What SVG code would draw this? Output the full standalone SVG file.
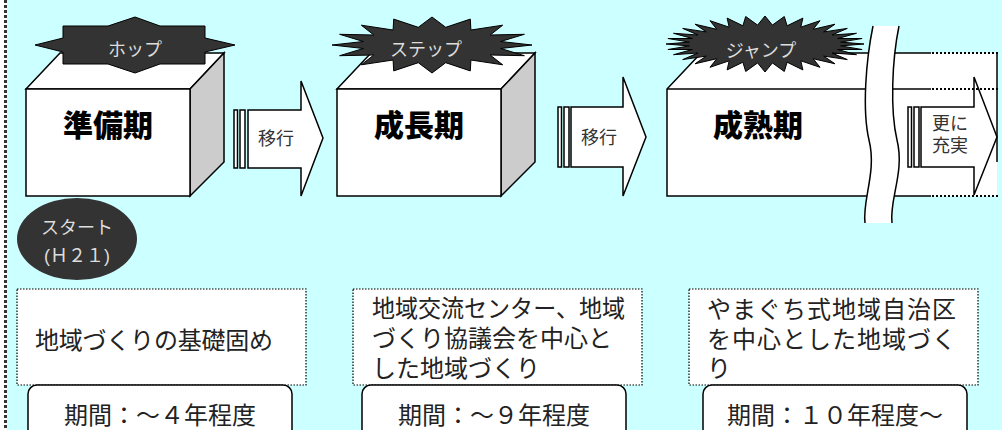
<svg xmlns="http://www.w3.org/2000/svg" width="1002" height="430" viewBox="0 0 1002 430">
<style>
.face{fill:#fff;stroke:#000;stroke-width:1.5;stroke-linejoin:miter}
.side{fill:#ccc;stroke:#000;stroke-width:1.5;stroke-linejoin:miter}
.ln{fill:none;stroke:#000;stroke-width:1.5}
.dl{fill:none;stroke:#000;stroke-width:2;stroke-dasharray:2 2}
.star{fill:#333;stroke:#000;stroke-width:1}
.jp{font-family:"Noto Sans CJK JP","Noto Sans CJK SC",sans-serif}
.jl{font-family:"Liberation Sans","Noto Sans CJK JP","Noto Sans CJK SC",sans-serif}
.startxt{font-size:18px;fill:#ddd;text-anchor:middle}
.big{font-size:30px;font-weight:900;fill:#000;text-anchor:middle}
.arrow{fill:#fff;stroke:#000;stroke-width:1.5;stroke-linejoin:miter}
.atxt{font-size:18px;fill:#333}
.desc{fill:#fff;stroke:#000;stroke-width:1.2;stroke-dasharray:1.5 1.5}
.dtxt{font-size:24px;fill:#222}
.period{fill:#fff;stroke:#000;stroke-width:1.5}
.ptxt{font-size:24px;fill:#222;text-anchor:middle}
</style>
<rect x="0" y="0" width="1002" height="430" fill="#fff"/>
<rect x="7" y="0" width="995" height="430" fill="#ccffff"/>
<line x1="5.5" y1="0" x2="5.5" y2="430" stroke="#333" stroke-width="3" stroke-dasharray="3 2"/>

<g id="box1">
  <polygon class="face" points="26,89 60,53 224,53 190,89"/>
  <polygon class="side" points="190,89 224,53 224,162 190,196"/>
  <rect class="face" x="26" y="89" width="164" height="107"/>
  <polygon class="star" points="63,26 108,26 135,17 160,26 205,26 205,38 235,45 205,52 205,64 160,64 135,73 108,64 63,64 63,52 35,45 63,38"/>
  <text class="jp startxt" x="135" y="56">ホップ</text>
  <text class="jp big" x="108" y="136">準備期</text>
</g>

<g id="box2">
  <polygon class="face" points="337,89 371,53 535,53 501,89"/>
  <polygon class="side" points="501,89 535,53 535,162 501,196"/>
  <rect class="face" x="337" y="89" width="164" height="107"/>
  <polygon class="star" transform="translate(432,45)" points="100,0 68.7,3.5 92.4,10.7 58.2,10 70.7,19.8 38.9,15 38.3,25.9 13.7,17.7 0,28 -13.7,17.7 -38.3,25.9 -38.9,15 -70.7,19.8 -58.2,10 -92.4,10.7 -68.7,3.5 -100,0 -68.7,-3.5 -92.4,-10.7 -58.2,-10 -70.7,-19.8 -38.9,-15 -38.3,-25.9 -13.7,-17.7 0,-28 13.7,-17.7 38.3,-25.9 38.9,-15 70.7,-19.8 58.2,-10 92.4,-10.7 68.7,-3.5"/>
  <text class="jp startxt" x="426" y="56">ステップ</text>
  <text class="jp big" x="419" y="136">成長期</text>
</g>

<g id="box3">
  <polygon fill="#fff" points="667,89 701,53 997,53 997,196 667,196"/>
  <polyline class="ln" points="931,53 701,53 667,89 667,196 931,196"/>
  <line class="ln" x1="667" y1="89" x2="931" y2="89"/>
  <line class="ln" x1="997" y1="53" x2="997" y2="162"/>
  <polygon class="star" transform="translate(765,44)" points="99,0 75.6,1.9 97.1,5.5 72.7,5.5 91.5,10.7 67,9 82.3,15.6 58.7,12.1 70,19.8 48.2,14.7 55,23.3 35.8,16.8 37.9,25.9 22.1,18.2 19.3,27.5 7.4,18.9 0,28 -7.4,18.9 -19.3,27.5 -22.1,18.2 -37.9,25.9 -35.8,16.8 -55,23.3 -48.2,14.7 -70,19.8 -58.7,12.1 -82.3,15.6 -67,9 -91.5,10.7 -72.7,5.5 -97.1,5.5 -75.6,1.9 -99,0 -75.6,-1.9 -97.1,-5.5 -72.7,-5.5 -91.5,-10.7 -67,-9 -82.3,-15.6 -58.7,-12.1 -70,-19.8 -48.2,-14.7 -55,-23.3 -35.8,-16.8 -37.9,-25.9 -22.1,-18.2 -19.3,-27.5 -7.4,-18.9 0,-28 7.4,-18.9 19.3,-27.5 22.1,-18.2 37.9,-25.9 35.8,-16.8 55,-23.3 48.2,-14.7 70,-19.8 58.7,-12.1 82.3,-15.6 67,-9 91.5,-10.7 72.7,-5.5 97.1,-5.5 75.6,-1.9"/>
  <text class="jp startxt" x="761" y="57">ジャンプ</text>
  <text class="jp big" x="758" y="136">成熟期</text>
</g>

<g id="break">
  <path d="M873,26 C866,60 862,110 869,140 C877,172 862,200 865,223 L892,223 C889,200 905,172 897,140 C890,110 892,60 899,26 Z" fill="#fff"/>
  <path class="ln" d="M873,26 C866,60 862,110 869,140 C877,172 862,200 865,223"/>
  <path class="ln" d="M899,26 C892,60 890,110 897,140 C905,172 889,200 892,223"/>
</g>

<g id="connectors">
  <g id="arrow1">
    <rect class="arrow" x="234" y="110" width="3.5" height="58"/>
    <rect class="arrow" x="240" y="110" width="5" height="58"/>
    <polygon class="arrow" points="248,110 301,110 301,81 323,138 301,196 301,168 248,168"/>
    <text class="jp atxt" x="276" y="145" text-anchor="middle">移行</text>
  </g>
  <g id="arrow2">
    <rect class="arrow" x="558" y="107" width="3.5" height="60"/>
    <rect class="arrow" x="564" y="107" width="5" height="60"/>
    <polygon class="arrow" points="571,107 623,107 623,77 646,137 623,196 623,167 571,167"/>
    <text class="jp atxt" x="599" y="144" text-anchor="middle">移行</text>
  </g>
  <g id="arrow3">
    <rect class="arrow" x="908" y="107" width="3.5" height="60"/>
    <rect class="arrow" x="914" y="107" width="5" height="60"/>
    <polygon class="arrow" points="921,107 974,107 974,77 997,137 974,195 974,167 921,167"/>
    <text class="jl atxt" x="932" y="130">更に</text>
    <text class="jl atxt" x="932" y="152">充実</text>
  </g>
</g>

<g id="box3-dotted">
  <line class="dl" x1="932" y1="53" x2="998" y2="53"/>
  <line class="dl" x1="932" y1="89" x2="998" y2="89"/>
  <line class="dl" x1="932" y1="196" x2="998" y2="196"/>
</g>

<g id="start">
  <ellipse cx="77" cy="239" rx="60" ry="41" fill="#333"/>
  <text class="jl startxt" fill="#eee" x="77" y="234">スタート</text>
  <text class="jl startxt" fill="#eee" x="77" y="262">(Ｈ２１)</text>
</g>

<g id="desc1">
  <rect class="desc" x="17" y="289" width="289" height="96"/>
  <text class="jl dtxt" x="35" y="349" textLength="238" lengthAdjust="spacing">地域づくりの基礎固め</text>
</g>
<g id="desc2">
  <rect class="desc" x="353" y="289" width="289" height="96"/>
  <text class="jl dtxt" x="372" y="317" textLength="253" lengthAdjust="spacingAndGlyphs">地域交流センター、地域</text>
  <text class="jl dtxt" x="372" y="347">づくり協議会を中心と</text>
  <text class="jl dtxt" x="372" y="377">した地域づくり</text>
</g>
<g id="desc3">
  <rect class="desc" x="689" y="289" width="289" height="96"/>
  <text class="jl dtxt" letter-spacing="1" x="707" y="318">やまぐち式地域自治区</text>
  <text class="jl dtxt" letter-spacing="1" x="707" y="348">を中心とした地域づく</text>
  <text class="jl dtxt" x="707" y="377">り</text>
</g>

<g id="period1">
  <rect class="period" x="28" y="385" width="264" height="60" rx="9"/>
  <text class="jl ptxt" x="160" y="424">期間：～４年程度</text>
</g>
<g id="period2">
  <rect class="period" x="362" y="385" width="264" height="60" rx="9"/>
  <text class="jl ptxt" x="494" y="424">期間：～９年程度</text>
</g>
<g id="period3">
  <rect class="period" x="703" y="385" width="264" height="60" rx="9"/>
  <text class="jl ptxt" x="835" y="424">期間：１０年程度～</text>
</g>
</svg>
